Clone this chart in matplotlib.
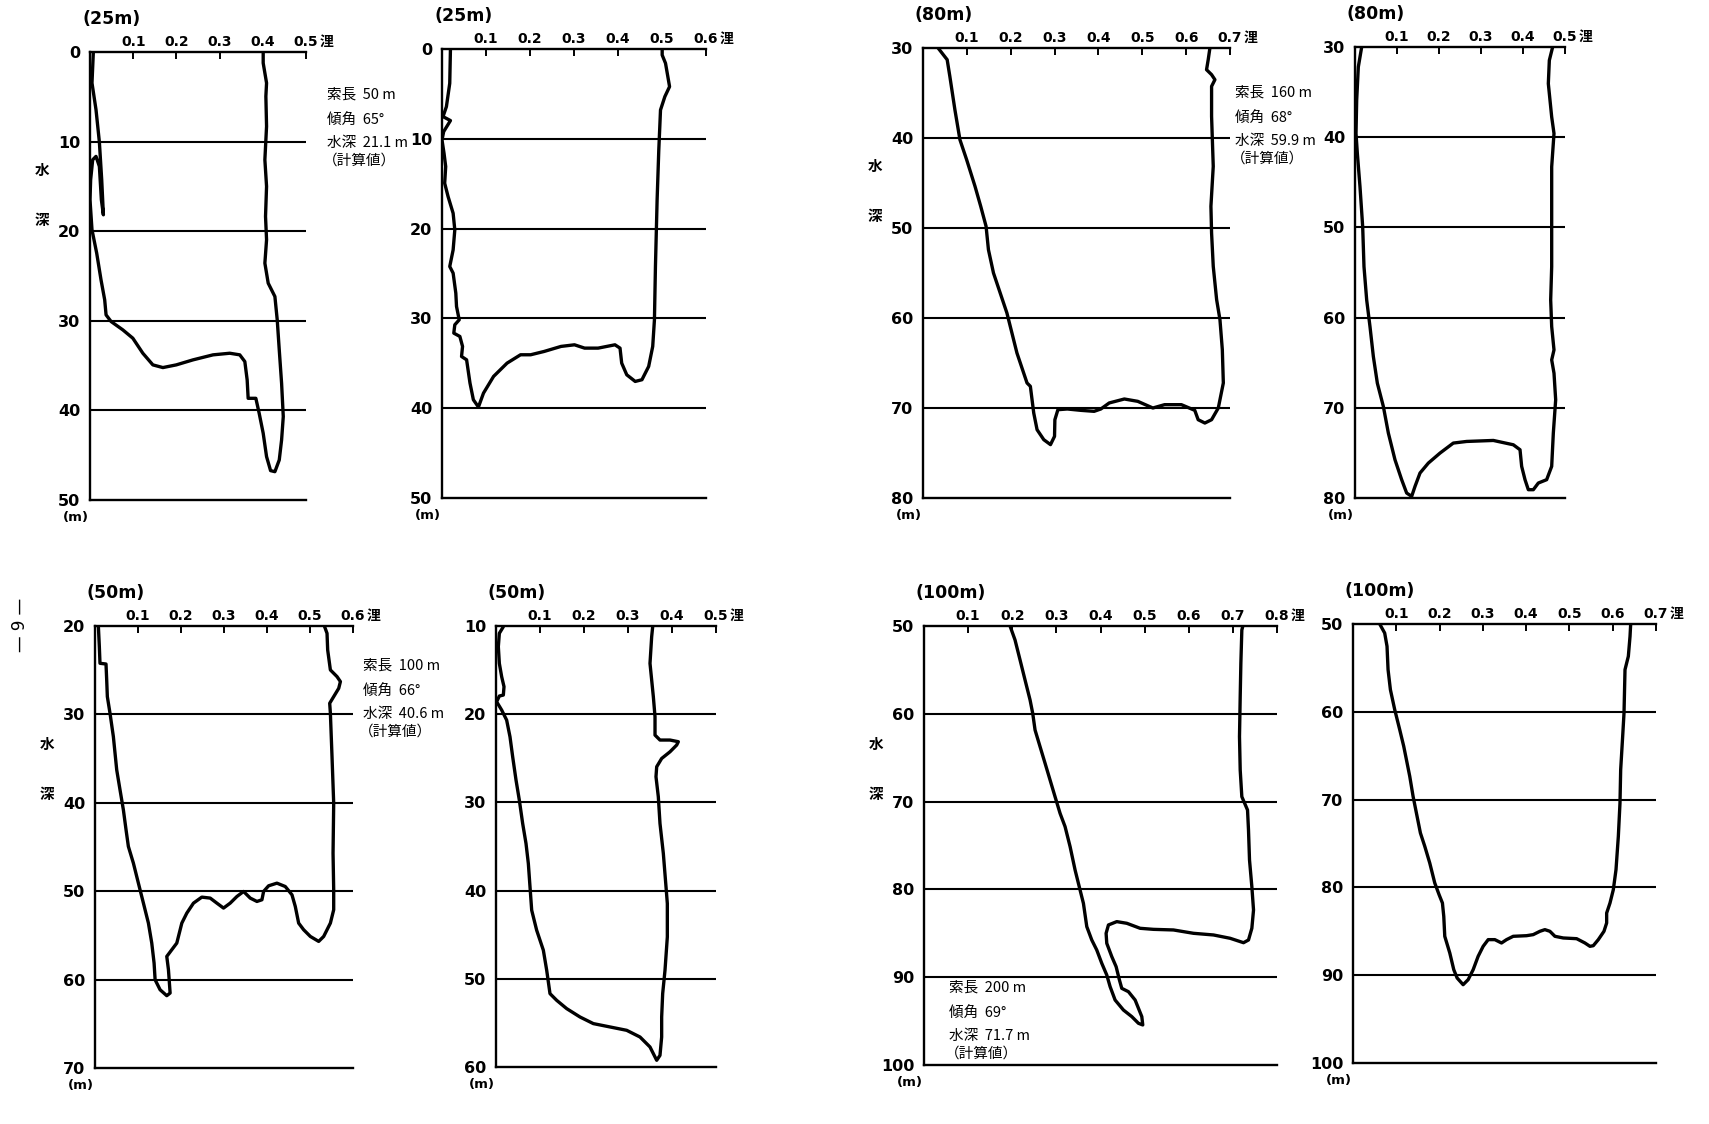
import matplotlib
matplotlib.use("Agg")
import matplotlib.pyplot as plt

plt.rcParams['font.family'] = ['DejaVu Sans']
CJK = ['Noto Sans CJK JP', 'DejaVu Sans']

W, H = 1709, 1124

# ---------------- data (speed in knots [浬], depth in m) ----------------
titles = ["(25m)", "(25m)", "(80m)", "(80m)", "(50m)", "(50m)", "(100m)", "(100m)"]
depth_ranges = [(0, 50), (0, 50), (30, 80), (30, 80), (20, 70), (10, 60), (50, 100), (50, 100)]
speed_max = [0.5, 0.6, 0.7, 0.5, 0.6, 0.5, 0.8, 0.7]

p1_speed = [0.0077, 0.0046, 0.0139, 0.0217, 0.0271, 0.031, 0.0263, 0.0217, 0.0139, 0.0062, 0.0015, 0.0,
            0.0046, 0.0155, 0.0255, 0.034, 0.0372, 0.0488, 0.0759, 0.0991, 0.1223, 0.1455, 0.1687, 0.1997,
            0.2384, 0.2848, 0.3235, 0.3467, 0.3584, 0.3638, 0.3661, 0.3839, 0.3916, 0.4009, 0.4087, 0.418,
            0.428, 0.4381, 0.4435, 0.4474, 0.4435, 0.4381, 0.4334, 0.428, 0.4125, 0.4048, 0.4087, 0.4063,
            0.4087, 0.4048, 0.4087, 0.4071, 0.4087, 0.4009, 0.4009]
p1_depth = [0.04, 3.46, 6.44, 10.05, 14.26, 18.17, 16.49, 12.77, 11.65, 12.03, 14.26, 16.49,
            19.84, 22.45, 25.43, 27.66, 29.34, 30.08, 31.01, 31.94, 33.62, 34.92, 35.22, 34.92,
            34.36, 33.80, 33.62, 33.80, 34.55, 36.60, 38.65, 38.65, 40.32, 42.55, 45.16, 46.72,
            46.84, 45.53, 43.30, 40.69, 36.97, 33.25, 29.90, 27.29, 25.80, 23.57, 20.96, 18.35,
            15.00, 12.03, 8.30, 4.95, 3.46, 1.23, 0.11]

p2_speed = [0.0192, 0.0176, 0.01, 0.0023, 0.0192, 0.0038, 0.0, 0.0046, 0.0084, 0.0061, 0.0138, 0.0253,
            0.0291, 0.0253, 0.0176, 0.0253, 0.0314, 0.033, 0.0391, 0.0291, 0.0268, 0.0406, 0.0467, 0.0444,
            0.0559, 0.0636, 0.0713, 0.0828, 0.0943, 0.1172, 0.1479, 0.1785, 0.2015, 0.2322, 0.2705, 0.3011,
            0.3241, 0.3548, 0.3931, 0.4046, 0.4084, 0.4199, 0.4391, 0.4544, 0.4697, 0.4789, 0.4828, 0.4851,
            0.4889, 0.4927, 0.495, 0.4966, 0.5065, 0.5172, 0.508, 0.5004, 0.5004]
p2_depth = [0.0, 3.82, 6.42, 7.53, 7.97, 9.20, 10.13, 11.61, 13.09, 14.95, 16.43, 18.29,
            20.14, 22.37, 24.22, 24.96, 27.19, 28.67, 30.16, 30.71, 31.64, 32.01, 33.12, 34.24,
            34.61, 37.20, 39.06, 39.87, 38.32, 36.46, 34.98, 34.05, 34.05, 33.68, 33.12, 32.94,
            33.31, 33.31, 32.94, 33.31, 34.98, 36.28, 37.02, 36.83, 35.35, 33.12, 30.16, 24.22,
            16.80, 11.24, 8.64, 6.79, 5.30, 4.19, 1.59, 0.67, 0.0]

p3_speed = [0.0344, 0.0551, 0.0612, 0.0727, 0.0842, 0.0995, 0.1186, 0.1316, 0.1438, 0.1492, 0.1607, 0.176,
            0.1913, 0.2028, 0.2142, 0.2372, 0.2448, 0.2525, 0.2601, 0.2754, 0.2907, 0.2999, 0.3007, 0.3076,
            0.329, 0.3596, 0.3902, 0.4055, 0.4246, 0.4591, 0.4897, 0.5241, 0.5509, 0.5891, 0.6197, 0.6274,
            0.6427, 0.658, 0.6733, 0.6848, 0.6825, 0.6771, 0.6695, 0.6618, 0.658, 0.6565, 0.6618, 0.658,
            0.658, 0.6656, 0.658, 0.6465, 0.6503, 0.6542]
p3_depth = [30.0, 31.30, 33.15, 36.85, 40.19, 42.41, 45.37, 47.59, 49.81, 52.41, 55.0, 57.22,
            59.44, 61.67, 63.89, 67.22, 67.59, 70.56, 72.41, 73.52, 74.07, 73.15, 71.30, 70.19,
            70.11, 70.26, 70.37, 70.11, 69.44, 69.0, 69.26, 70.0, 69.63, 69.63, 70.26, 71.30,
            71.67, 71.30, 70.0, 67.22, 63.52, 60.19, 57.96, 54.26, 50.56, 47.59, 43.15, 37.59,
            34.26, 33.52, 32.96, 32.41, 31.30, 30.0]

p4_speed = [0.0159, 0.0079, 0.004, 0.0024, 0.0056, 0.0119, 0.0183, 0.0214, 0.0278, 0.0357, 0.0437, 0.0532,
            0.0675, 0.0794, 0.0952, 0.1111, 0.123, 0.1349, 0.1429, 0.1548, 0.1746, 0.2024, 0.2341, 0.2659,
            0.3294, 0.377, 0.3929, 0.3968, 0.4048, 0.4127, 0.4246, 0.4365, 0.4563, 0.4683, 0.4722, 0.4778,
            0.4738, 0.4683, 0.4738, 0.4683, 0.4659, 0.4683, 0.4683, 0.4683, 0.4738, 0.4683, 0.4603, 0.4627,
            0.4706]
p4_depth = [30.0, 32.21, 35.90, 39.59, 41.81, 45.50, 49.93, 54.35, 58.04, 61.00, 64.32, 67.27,
            69.85, 72.80, 75.76, 77.97, 79.45, 79.82, 78.71, 77.23, 76.13, 75.02, 73.91, 73.73,
            73.62, 74.10, 74.65, 76.49, 77.97, 79.08, 79.08, 78.34, 77.97, 76.49, 72.80, 69.11,
            66.16, 64.69, 63.58, 61.0, 58.04, 54.35, 49.93, 43.28, 39.59, 37.75, 34.06, 31.48,
            30.0]

p5_speed = [0.0078, 0.0101, 0.0116, 0.0256, 0.0272, 0.0287, 0.0349, 0.0427, 0.0505, 0.0582, 0.066, 0.0722,
            0.0776, 0.0893, 0.1009, 0.1126, 0.1242, 0.132, 0.1374, 0.1398, 0.1514, 0.1669, 0.1747, 0.1708,
            0.1669, 0.1786, 0.1902, 0.2019, 0.2135, 0.229, 0.2484, 0.2679, 0.2834, 0.2989, 0.3144, 0.33,
            0.3455, 0.361, 0.3766, 0.3882, 0.3921, 0.4037, 0.4231, 0.4425, 0.4581, 0.4658, 0.4736, 0.4852,
            0.5008, 0.5202, 0.5318, 0.5474, 0.5551, 0.5551, 0.5536, 0.5551, 0.5512, 0.5474, 0.5458, 0.5551,
            0.5668, 0.5707, 0.5629, 0.5474, 0.5411, 0.5396, 0.5334]
p5_depth = [20.0, 22.34, 24.22, 24.30, 26.10, 27.99, 29.87, 32.51, 36.28, 38.54, 40.80, 43.06,
            44.94, 46.83, 49.09, 51.35, 53.61, 55.87, 58.13, 60.02, 61.15, 61.82, 61.52, 58.88,
            57.38, 56.62, 55.87, 53.61, 52.48, 51.35, 50.67, 50.78, 51.35, 51.91, 51.35, 50.60,
            50.03, 50.78, 51.16, 50.97, 50.03, 49.39, 49.09, 49.47, 50.41, 51.73, 53.61, 54.36,
            55.12, 55.68, 55.12, 53.61, 52.10, 49.84, 45.70, 40.05, 34.77, 29.87, 28.74, 27.99,
            27.05, 26.29, 25.73, 24.97, 22.71, 20.83, 20.0]

p6_speed = [0.0167, 0.0076, 0.0053, 0.0076, 0.0129, 0.0182, 0.0167, 0.0076, 0.0015, 0.0129, 0.0242, 0.0318,
            0.0379, 0.0455, 0.053, 0.0606, 0.0682, 0.0735, 0.0773, 0.0811, 0.0924, 0.1076, 0.1152, 0.1227,
            0.1379, 0.1606, 0.1909, 0.2212, 0.2591, 0.297, 0.3273, 0.35, 0.3652, 0.3727, 0.3765, 0.3765,
            0.3788, 0.3841, 0.3894, 0.3894, 0.3864, 0.3803, 0.3727, 0.3689, 0.3636, 0.3652, 0.3765, 0.3955,
            0.4106, 0.4144, 0.3955, 0.3727, 0.3614, 0.3614, 0.3576, 0.3538, 0.35, 0.3538, 0.3561]
p6_depth = [10.08, 10.83, 12.34, 14.24, 15.75, 16.88, 17.83, 17.94, 18.59, 19.53, 20.67, 22.56,
            24.83, 27.47, 29.74, 32.39, 34.66, 36.93, 39.58, 42.22, 44.49, 46.76, 49.03, 51.68,
            52.44, 53.38, 54.33, 55.08, 55.46, 55.84, 56.60, 57.73, 59.24, 58.68, 56.60, 54.33,
            51.68, 49.03, 45.25, 41.47, 39.58, 35.79, 32.39, 29.36, 27.09, 25.96, 25.02, 24.26,
            23.50, 23.12, 22.93, 22.93, 22.37, 20.29, 18.02, 16.13, 14.24, 11.21, 10.08]

p7_speed = [0.195, 0.2063, 0.2177, 0.229, 0.2404, 0.2464, 0.2517, 0.263, 0.2744, 0.2857, 0.297, 0.3084,
            0.3197, 0.3311, 0.3424, 0.3537, 0.3613, 0.3689, 0.3802, 0.3915, 0.4029, 0.4142, 0.4218, 0.4331,
            0.452, 0.4709, 0.486, 0.4958, 0.4936, 0.4785, 0.4633, 0.4482, 0.4429, 0.4354, 0.4256, 0.4142,
            0.4127, 0.418, 0.4369, 0.4596, 0.4898, 0.52, 0.5654, 0.6107, 0.6561, 0.6939, 0.7241, 0.7354,
            0.743, 0.7468, 0.743, 0.7377, 0.7354, 0.7332, 0.7203, 0.7166, 0.715, 0.7166, 0.7181, 0.7203,
            0.7226]
p7_depth = [50.0, 51.59, 53.87, 56.15, 58.43, 59.95, 61.85, 63.74, 65.64, 67.54, 69.44, 71.34,
            72.85, 75.13, 77.79, 80.07, 81.59, 84.24, 85.76, 86.90, 88.42, 89.75, 91.08, 92.60,
            93.74, 94.49, 95.25, 95.44, 94.49, 92.60, 91.65, 91.27, 90.32, 88.80, 87.66, 86.14,
            85.0, 84.05, 83.67, 83.86, 84.43, 84.55, 84.62, 85.0, 85.19, 85.57, 86.07, 85.76,
            84.43, 82.35, 79.69, 76.65, 73.23, 70.96, 69.44, 66.40, 62.60, 58.05, 54.25, 50.46,
            50.0]

p8_speed = [0.0617, 0.0732, 0.0786, 0.081, 0.0864, 0.0964, 0.1079, 0.1172, 0.1234, 0.1311, 0.1388, 0.1465,
            0.1557, 0.1658, 0.1773, 0.1889, 0.1989, 0.2066, 0.2097, 0.212, 0.2236, 0.2328, 0.2406, 0.2544,
            0.266, 0.2776, 0.2891, 0.3007, 0.3123, 0.3277, 0.3431, 0.3547, 0.3701, 0.4009, 0.4163, 0.4318,
            0.4433, 0.4549, 0.4665, 0.4857, 0.5166, 0.5358, 0.5474, 0.5551, 0.5667, 0.5798, 0.586, 0.586,
            0.5937, 0.6014, 0.6076, 0.613, 0.6168, 0.6184, 0.623, 0.6261, 0.6284, 0.6361, 0.64, 0.6415]
p8_depth = [50.0, 51.03, 52.54, 55.20, 57.48, 59.76, 62.03, 63.93, 65.45, 67.35, 69.63, 71.53,
            73.80, 75.32, 77.22, 79.50, 80.83, 81.78, 83.30, 85.57, 87.47, 89.37, 90.32, 91.08,
            90.51, 89.37, 87.85, 86.71, 85.95, 85.95, 86.33, 85.95, 85.57, 85.50, 85.38, 85.0,
            84.81, 85.0, 85.57, 85.76, 85.84, 86.33, 86.71, 86.64, 85.95, 85.0, 84.05, 82.92,
            81.78, 80.26, 77.98, 74.18, 70.39, 66.59, 62.79, 60.14, 55.20, 53.68, 51.40, 50.0]

speeds = [p1_speed, p2_speed, p3_speed, p4_speed, p5_speed, p6_speed, p7_speed, p8_speed]
depths = [p1_depth, p2_depth, p3_depth, p4_depth, p5_depth, p6_depth, p7_depth, p8_depth]

notes = {0: ["索長  50 m", "傾角  65°", "水深  21.1 m", "（計算値）"],
         2: ["索長  160 m", "傾角  68°", "水深  59.9 m", "（計算値）"],
         4: ["索長  100 m", "傾角  66°", "水深  40.6 m", "（計算値）"],
         6: ["索長  200 m", "傾角  69°", "水深  71.7 m", "（計算値）"]}

# ---------------- layout (pixel boxes: left, top, right, bottom) ----------------
boxes = [(90, 52, 306, 500), (442, 49, 706, 498), (923, 48, 1230, 498), (1355, 47, 1565, 498),
         (95, 626, 353, 1068), (496, 626, 716, 1067), (924, 626, 1277, 1065), (1353, 624, 1656, 1063)]
note_pos = {0: (327, 95), 2: (1235, 93), 4: (363, 666), 6: (949, 988)}
note_dy = [0, 25, 48, 66]
label_panels = [0, 2, 4, 6]

fig = plt.figure(figsize=(W / 100, H / 100), dpi=100)
fig.patch.set_facecolor('white')

def fx(px):
    return px / W

def fy(py):
    return 1 - py / H

for i in range(8):
    l, t, r, b = boxes[i]
    ax = fig.add_axes([fx(l), fy(b), fx(r - l), (b - t) / H])
    d0, d1 = depth_ranges[i]
    xm = speed_max[i]
    ax.set_xlim(0, xm)
    ax.set_ylim(d1, d0)
    ax.set_facecolor('none')
    ax.spines['right'].set_visible(False)
    for s in ['left', 'top', 'bottom']:
        ax.spines[s].set_linewidth(1.7)
    # depth grid lines
    yt = list(range(d0, d1 + 1, 10))
    ax.set_yticks(yt)
    ax.set_yticklabels([str(v) for v in yt])
    for v in yt[1:-1]:
        ax.axhline(v, color='black', lw=1.5, zorder=1)
    ax.tick_params(axis='y', length=0, pad=7, labelsize=11.5)
    for lab in ax.get_yticklabels():
        lab.set_fontweight('bold')
    # speed ticks on top
    nt = int(round(xm * 10))
    xt = [k / 10 for k in range(1, nt + 1)]
    ax.xaxis.tick_top()
    ax.set_xticks(xt)
    ax.set_xticklabels(["%.1f" % v for v in xt])
    ax.tick_params(axis='x', direction='in', length=5, width=1.4, pad=2, labelsize=10)
    for lab in ax.get_xticklabels():
        lab.set_fontweight('bold')
    ax.annotate("浬", xy=(xm, 1.0), xycoords=ax.get_xaxis_transform(), xytext=(10, 2),
                textcoords='offset points', ha='left', va='bottom', fontsize=10, family=CJK,
                fontweight='bold')
    # unit under bottom label
    ax.annotate("(m)", xy=(0, d1), xycoords='data', xytext=(-10, -12.5), textcoords='offset points',
                ha='center', va='center', fontsize=9.5, fontweight='bold')
    # the trace
    ax.plot(speeds[i], depths[i], color='black', lw=2.4, solid_joinstyle='round',
            solid_capstyle='round', zorder=3)
    # title
    fig.text(fx(l - 8), fy(t - 33), titles[i], ha='left', va='center', fontsize=12.5,
             fontweight='bold')
    if i in label_panels:
        fig.text(fx(l - 48), fy(t + 118), "水", ha='center', va='center', fontsize=10.5,
                 family=CJK, fontweight='bold')
        fig.text(fx(l - 48), fy(t + 168), "深", ha='center', va='center', fontsize=10.5,
                 family=CJK, fontweight='bold')
    if i in notes:
        nx, ny = note_pos[i]
        for k, line in enumerate(notes[i]):
            fig.text(fx(nx if k < 3 else nx - 4), fy(ny + note_dy[k]), line, ha='left', va='center',
                     fontsize=10.5, family=CJK)

# page number
fig.text(fx(20), fy(625), "— 9 —", rotation=90, ha='center', va='center', fontsize=12)

fig.savefig("out.png", dpi=100, facecolor='white')
